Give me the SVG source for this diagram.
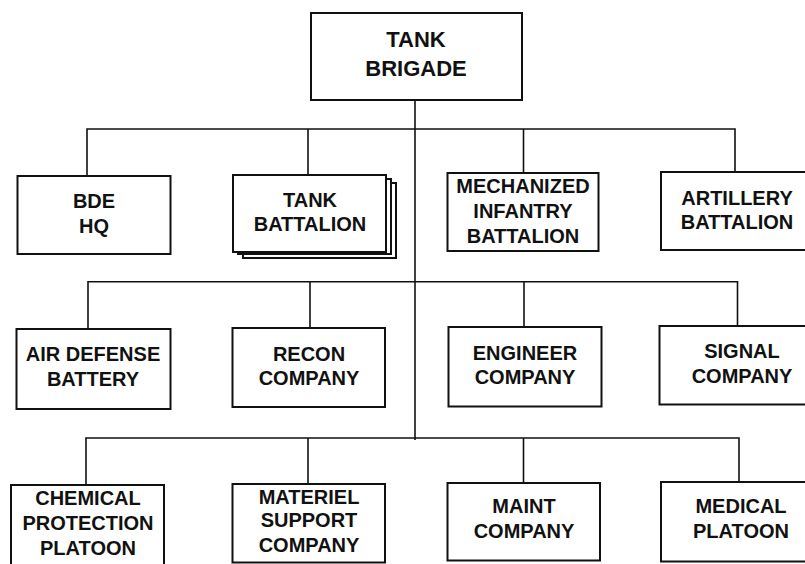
<svg xmlns="http://www.w3.org/2000/svg" width="805" height="564" viewBox="0 0 805 564">
<style>
.box{fill:#fff;stroke:#111;stroke-width:2}
.ln{fill:none;stroke:#111;stroke-width:1.6}
text{font-family:"Liberation Sans",Arial,sans-serif;font-weight:bold;font-size:20px;fill:#111;text-anchor:middle}
.big{font-size:22px}
</style>
<rect width="805" height="564" fill="#fff"/>
<g id="connectors">
<path class="ln" d="M415 100V440"/>
<path class="ln" d="M87 176V129H735V172M308 129V175M523.5 129V173"/>
<path class="ln" d="M88 329V281.7H737.5V326M310 281.7V328M524 281.7V327"/>
<path class="ln" d="M86 485V438H739V482M308 438V484M523.5 438V483"/>
</g>
<g id="tank-brigade">
<rect class="box" x="311" y="13" width="211" height="87"/>
<text class="big" x="416" y="47">TANK</text>
<text class="big" x="416" y="76">BRIGADE</text>
</g>
<g id="bde-hq">
<rect class="box" x="17.5" y="176" width="153" height="78"/>
<text x="94" y="208">BDE</text>
<text x="94" y="233">HQ</text>
</g>
<g id="tank-battalion">
<rect class="box" x="243" y="183" width="153" height="75"/>
<rect class="box" x="238" y="179" width="153" height="75"/>
<rect class="box" x="233" y="175" width="153" height="77"/>
<text x="310" y="207">TANK</text>
<text x="310" y="231">BATTALION</text>
</g>
<g id="mech-inf-battalion">
<rect class="box" x="447.5" y="173" width="151" height="78"/>
<text x="523" y="193">MECHANIZED</text>
<text x="523" y="218">INFANTRY</text>
<text x="523" y="243">BATTALION</text>
</g>
<g id="artillery-battalion">
<rect class="box" x="661" y="172" width="152" height="78"/>
<text x="737" y="205">ARTILLERY</text>
<text x="737" y="229">BATTALION</text>
</g>
<g id="air-defense-battery">
<rect class="box" x="16.5" y="329" width="154" height="80"/>
<text x="93" y="361">AIR DEFENSE</text>
<text x="93" y="386">BATTERY</text>
</g>
<g id="recon-company">
<rect class="box" x="232.5" y="328" width="152.5" height="79"/>
<text x="309" y="361">RECON</text>
<text x="309" y="385">COMPANY</text>
</g>
<g id="engineer-company">
<rect class="box" x="448.5" y="327" width="153" height="79.5"/>
<text x="525" y="360">ENGINEER</text>
<text x="525" y="384">COMPANY</text>
</g>
<g id="signal-company">
<rect class="box" x="659.5" y="326" width="160" height="78.5"/>
<text x="742" y="358">SIGNAL</text>
<text x="742" y="383">COMPANY</text>
</g>
<g id="chemical-protection-platoon">
<rect class="box" x="11" y="485" width="153" height="82"/>
<text x="88" y="505">CHEMICAL</text>
<text x="88" y="530">PROTECTION</text>
<text x="88" y="555">PLATOON</text>
</g>
<g id="materiel-support-company">
<rect class="box" x="232.5" y="484" width="152.5" height="78.5"/>
<text x="309" y="504">MATERIEL</text>
<text x="309" y="527">SUPPORT</text>
<text x="309" y="552">COMPANY</text>
</g>
<g id="maint-company">
<rect class="box" x="447.5" y="483" width="152.5" height="77.5"/>
<text x="524" y="513">MAINT</text>
<text x="524" y="538">COMPANY</text>
</g>
<g id="medical-platoon">
<rect class="box" x="661" y="482" width="160" height="79.5"/>
<text x="741" y="513">MEDICAL</text>
<text x="741" y="538">PLATOON</text>
</g>
</svg>
